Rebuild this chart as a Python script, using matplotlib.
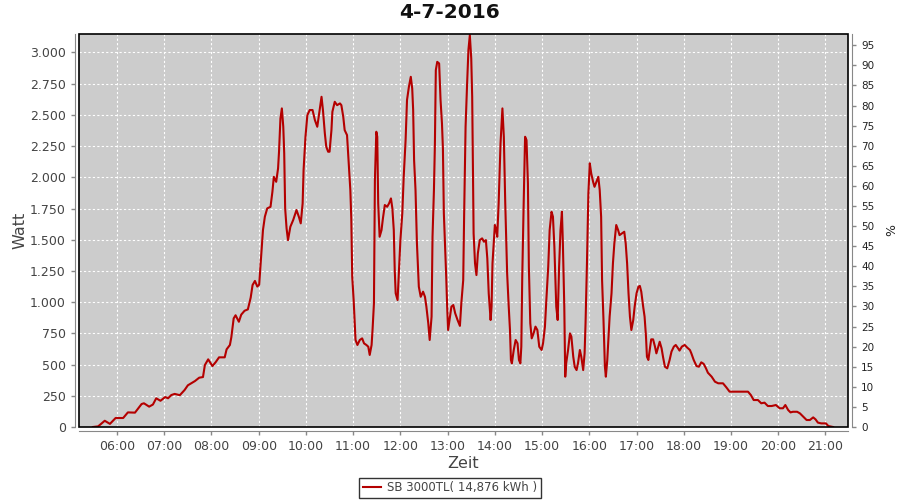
import matplotlib
matplotlib.use('Agg')
import matplotlib.pyplot as plt
from matplotlib.patches import Rectangle
from matplotlib.ticker import FuncFormatter

# Chart data: time of day (decimal hours) and AC power (W)
title = '4-7-2016'
series_label = 'SB 3000TL( 14,876 kWh )'
hours = [
    5.49, 5.60, 5.74, 5.85, 5.97, 6.13, 6.23, 6.38, 6.52, 6.57, 6.68, 6.76, 6.83, 6.92,
    7.02, 7.08, 7.15, 7.22, 7.33, 7.43, 7.50, 7.65, 7.74, 7.82, 7.86, 7.93, 8.02, 8.09,
    8.16, 8.28, 8.32, 8.39, 8.42, 8.47, 8.51, 8.58, 8.63, 8.70, 8.77, 8.83, 8.87, 8.92,
    8.97, 9.01, 9.04, 9.07, 9.09, 9.13, 9.18, 9.25, 9.29, 9.32, 9.37, 9.41, 9.43, 9.46,
    9.49, 9.52, 9.54, 9.56, 9.59, 9.62, 9.67, 9.73, 9.80, 9.85, 9.89, 9.93, 9.95, 9.99,
    10.03, 10.08, 10.14, 10.19, 10.24, 10.28, 10.33, 10.36, 10.40, 10.43, 10.47, 10.50,
    10.54, 10.56, 10.61, 10.66, 10.72, 10.75, 10.79, 10.82, 10.87, 10.91, 10.94, 10.96,
    10.98, 11.01, 11.03, 11.05, 11.09, 11.14, 11.19, 11.23, 11.28, 11.32, 11.35, 11.39,
    11.41, 11.44, 11.46, 11.49, 11.51, 11.53, 11.56, 11.60, 11.63, 11.67, 11.72, 11.76,
    11.80, 11.83, 11.86, 11.88, 11.90, 11.94, 11.97, 12.00, 12.04, 12.07, 12.11, 12.14,
    12.18, 12.22, 12.25, 12.27, 12.29, 12.32, 12.35, 12.39, 12.43, 12.48, 12.52, 12.55,
    12.59, 12.62, 12.66, 12.68, 12.71, 12.73, 12.75, 12.78, 12.82, 12.85, 12.88, 12.90,
    12.92, 12.95, 12.97, 12.99, 13.01, 13.04, 13.08, 13.12, 13.16, 13.21, 13.26, 13.29,
    13.33, 13.35, 13.38, 13.41, 13.44, 13.47, 13.50, 13.52, 13.54, 13.55, 13.58, 13.61,
    13.64, 13.68, 13.73, 13.77, 13.81, 13.84, 13.87, 13.91, 13.93, 13.95, 13.98, 14.00,
    14.03, 14.05, 14.08, 14.12, 14.16, 14.19, 14.22, 14.26, 14.29, 14.32, 14.34, 14.36,
    14.40, 14.44, 14.48, 14.51, 14.54, 14.56, 14.58, 14.61, 14.64, 14.67, 14.70, 14.72,
    14.75, 14.78, 14.82, 14.86, 14.90, 14.94, 14.99, 15.02, 15.06, 15.09, 15.13, 15.16,
    15.20, 15.23, 15.26, 15.28, 15.30, 15.33, 15.36, 15.39, 15.42, 15.44, 15.47, 15.49,
    15.51, 15.55, 15.59, 15.62, 15.66, 15.69, 15.73, 15.76, 15.80, 15.83, 15.87, 15.90,
    15.92, 15.95, 15.98, 16.01, 16.04, 16.08, 16.11, 16.15, 16.19, 16.22, 16.25, 16.27,
    16.30, 16.33, 16.35, 16.38, 16.40, 16.43, 16.47, 16.50, 16.53, 16.57, 16.61, 16.64,
    16.69, 16.74, 16.77, 16.80, 16.83, 16.86, 16.89, 16.93, 16.96, 17.00, 17.04, 17.07,
    17.10, 17.14, 17.17, 17.20, 17.22, 17.25, 17.28, 17.31, 17.35, 17.39, 17.42, 17.46,
    17.49, 17.53, 17.56, 17.60, 17.65, 17.70, 17.74, 17.79, 17.83, 17.88, 17.91, 17.96, 18.02,
    18.07, 18.13, 18.16, 18.21, 18.27, 18.32, 18.37, 18.42, 18.47, 18.51, 18.59, 18.66,
    18.73, 18.83, 18.90, 18.97, 19.36, 19.42, 19.48, 19.57, 19.64, 19.71, 19.78, 19.86,
    19.95, 20.03, 20.10, 20.15, 20.21, 20.26, 20.31, 20.40, 20.46, 20.53, 20.60, 20.67,
    20.74, 20.79, 20.84, 20.91, 21.01, 21.06, 21.16,
]
watts = [
    0, 5, 50, 25, 72, 72, 117, 115, 184, 190, 163, 180, 230, 210,
    240, 230, 256, 265, 255, 296, 334, 368, 395, 400, 496, 542, 488, 520,
    558, 558, 622, 657, 718, 870, 895, 843, 900, 931, 942, 1036, 1137, 1170,
    1125, 1140, 1300, 1450, 1577, 1684, 1751, 1764, 1884, 2004, 1964, 2072, 2205, 2472,
    2552, 2405, 2192, 1751, 1591, 1497, 1604, 1658, 1738, 1684, 1631, 1791, 2058, 2325,
    2498, 2539, 2539, 2458, 2405, 2512, 2645, 2539, 2352, 2245, 2205, 2205,
    2378, 2525, 2605, 2578, 2592, 2578, 2485, 2378, 2338, 2085, 1898, 1671,
    1204, 1017, 857, 697, 657, 697, 710, 670, 657, 643, 577, 657,
    777, 991, 1978, 2365, 2325, 1791, 1524, 1577, 1671, 1778, 1764, 1791,
    1831, 1751, 1577, 1257, 1071, 1017, 1257, 1497, 1711, 2004, 2298, 2619,
    2725, 2805, 2712, 2539, 2138, 1898, 1471, 1124, 1043, 1084, 1043, 964,
    831, 697, 884, 1524, 1898, 2258, 2859, 2925, 2912, 2619, 2432, 2232,
    1711, 1417, 1204, 964, 777, 857, 964, 977, 911, 857, 810, 991,
    1177, 1711, 2405, 2725, 3019, 3139, 2952, 2645, 1871, 1551, 1311, 1217,
    1391, 1497, 1511, 1484, 1497, 1351, 1071, 857, 964, 1311, 1497, 1618,
    1577, 1524, 1791, 2272, 2552, 2325, 1791, 1231, 991, 777, 537, 510,
    617, 697, 670, 537, 510, 644, 1204, 1791, 2325, 2298, 1951, 1284,
    831, 710, 750, 804, 777, 643, 617, 670, 804, 1017, 1284, 1577,
    1724, 1684, 1444, 1204, 964, 857, 1284, 1577, 1724, 1471, 964, 403,
    510, 617, 750, 724, 563, 483, 456, 510, 617, 563, 456, 590,
    831, 1311, 1871, 2112, 2032, 1964, 1924, 1964, 2004, 1898, 1684, 1177,
    857, 483, 403, 537, 670, 884, 1071, 1311, 1471, 1618, 1577, 1537,
    1551, 1564, 1471, 1311, 1071, 884, 777, 857, 964, 1071, 1124, 1130,
    1084, 964, 884, 724, 563, 537, 617, 702, 702, 644, 590, 644,
    683, 630, 563, 483, 470, 537, 604, 644, 657, 630, 612, 644, 657,
    637, 617, 590, 537, 488, 483, 518, 506, 470, 435, 403, 363,
    350, 350, 318, 283, 283, 256, 216, 216, 190, 195, 168, 168,
    176, 150, 150, 176, 136, 117, 122, 122, 109, 83, 56, 56,
    77, 61, 35, 29, 29, 8, 0,
]
hour_ticks = list(range(6, 22))
watt_ticks = list(range(0, 3001, 250))
pct_ticks = list(range(0, 96, 5))

fig = plt.figure(figsize=(9, 5), dpi=100)
ax = fig.add_axes([79 / 900, 1 - 427 / 500, (848 - 79) / 900, (427 - 34) / 500])
ax.set_facecolor('#cccccc')

line, = ax.plot(hours, watts, color='#b40000', lw=1.5, label=series_label, zorder=3)

ax.set_xlim(5.195, 21.477)
ax.set_ylim(0, 3148)
ax.set_xticks(hour_ticks)
ax.set_xticklabels([f'{h:02d}:00' for h in hour_ticks])
ax.set_yticks(watt_ticks)
ax.yaxis.set_major_formatter(FuncFormatter(lambda v, p: f'{v:,.0f}'.replace(',', '.')))
ax.set_axisbelow(True)
ax.grid(color='white', linestyle=(0, (2, 2)), lw=0.8)

ax2 = ax.twinx()
ax2.set_ylim(0, 97.8)
ax2.set_yticks(pct_ticks)

# Offset grey axis lines, black plot border
for a in (ax, ax2):
    for s in a.spines.values():
        s.set_visible(False)
for name, a in (('left', ax), ('bottom', ax), ('right', ax2)):
    sp = a.spines[name]
    sp.set_visible(True)
    sp.set_position(('outward', 3))
    sp.set_color('#888888')
ax.add_patch(Rectangle((0, 0), 1, 1, transform=ax.transAxes, fill=False,
                       ec='black', lw=1.2, zorder=5, clip_on=False))

ax.tick_params(axis='both', colors='#888888', labelcolor='#444444',
               labelsize=9, length=3, width=1)
ax2.tick_params(axis='y', colors='#888888', labelcolor='#222222',
                labelsize=7.5, length=3, width=1)

ax.set_xlabel('Zeit', fontsize=11.5, color='#444444', labelpad=2)
ax.set_ylabel('Watt', fontsize=11.5, color='#444444', labelpad=2)
ax2.set_ylabel('%', fontsize=9, color='#222222', labelpad=8)

fig.text(0.5, 1 - 13 / 500, title, ha='center', va='center',
         fontsize=14.5, fontweight='bold', color='#111111')

leg = fig.legend(handles=[line], loc='lower center', bbox_to_anchor=(0.5, 0.004),
                 fontsize=8.5, frameon=True, fancybox=False, borderaxespad=0,
                 handlelength=1.6, handletextpad=0.5, borderpad=0.3)
leg.get_frame().set_edgecolor('black')
leg.get_frame().set_linewidth(1)
for t in leg.get_texts():
    t.set_color('#444444')

fig.savefig('out.png', dpi=100)
